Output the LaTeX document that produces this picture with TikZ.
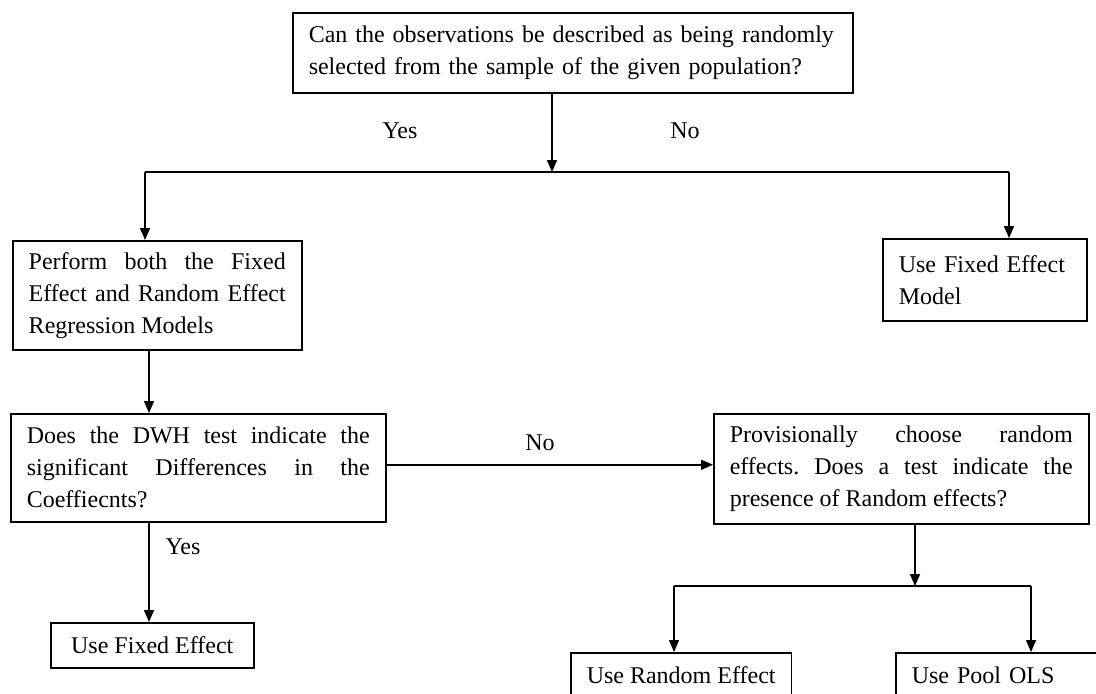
\documentclass[tikz,border=0pt]{standalone}
\usepackage{fontspec}
\setmainfont{Liberation Serif}
\usetikzlibrary{arrows.meta,positioning}
\tolerance=10000
\hbadness=10000
\hyphenpenalty=10000
\exhyphenpenalty=10000
\tikzset{
  every node/.style={
    font=\fontsize{12}{16}\selectfont
  },
  query/.style={
    shape=rectangle,
    draw,
    line width=0.75pt,
    anchor=north west,
    inner xsep=8pt,
    text width=#1,
    align=justify
  },
  outcome/.style={
    shape=rectangle,
    draw,
    line width=0.75pt,
    anchor=north west,
    inner xsep=8pt
  },
  answer/.style={
    inner sep=0pt
  },
  link/.style={
    -{Triangle[length=6pt,width=5pt]},
    line width=0.75pt
  }
}

\begin{document}
\frenchspacing
\begin{tikzpicture}[x=0.5pt,y=-0.5pt]
    \clip (0,0) rectangle (1096,693);
    % questions
    \node [query=264pt, align=left, minimum height=40pt] (sample) at (292,12) {
      Can the observations be described as being randomly selected from the sample of the given population?
    };
    \node [query=128.5pt, minimum height=54.5pt] (both) at (12,240) {
      Perform both the Fixed Effect and Random Effect Regression Models
    };
    \node [query=171.5pt, minimum height=54pt] (dwh) at (10,413) {
      Does the DWH test indicate the significant Differences in the Coeffiecnts?
    };
    \node [query=171.5pt, minimum height=55pt] (provisional) at (713,413) {
      Provisionally choose random effects. Does a test indicate the presence of Random effects?
    };
    % outcomes
    \node [query=86pt, align=left, minimum height=41pt] (fixedmodel) at (882,238) {
      Use Fixed Effect Model
    };
    \node [outcome, minimum width=101.5pt, minimum height=22.5pt] (fixed) at (50,622) {Use Fixed Effect};
    \node [outcome, minimum width=110pt, minimum height=22.5pt] (random) at (570,652) {Use Random Effect};
    \node [query=100pt, align=left, minimum height=22.5pt] (pooled) at (895,652) {Use Pool OLS};
    % branch points
    \coordinate (fork) at (552,172);
    \coordinate (forkl) at (145,172);
    \coordinate (forkr) at (1009,172);
    \coordinate (yescol) at (149,0);
    \coordinate (split) at (915,586);
    \coordinate (splitl) at (674,586);
    \coordinate (splitr) at (1031,586);
    % connectors
    \draw [link] (sample.south -| fork) -- (fork);
    \draw [line width=0.75pt] (forkl) -- (forkr);
    \draw [link] (forkl) -- (forkl |- both.north);
    \draw [link] (forkr) -- (forkr |- fixedmodel.north);
    \draw [link] (both.south -| yescol) -- (dwh.north -| yescol);
    \draw [link] (dwh.south -| yescol) -- (fixed.north -| yescol);
    \draw [link] ([yshift=1.5pt]dwh.east) -- ([yshift=1.5pt]dwh.east -| provisional.west);
    \draw [link] (provisional.south -| split) -- (split);
    \draw [line width=0.75pt] (splitl) -- (splitr);
    \draw [link] (splitl) -- (splitl |- random.north);
    \draw [link] (splitr) -- (splitr |- pooled.north);
    % answers
    \node [answer] (yes1) at (400,131) {Yes};
    \node [answer] (no1) at (685,131) {No};
    \node [answer] (no2) at (540,443) {No};
    \node [answer] (yes2) at (183,547) {Yes};
\end{tikzpicture}
\end{document}
